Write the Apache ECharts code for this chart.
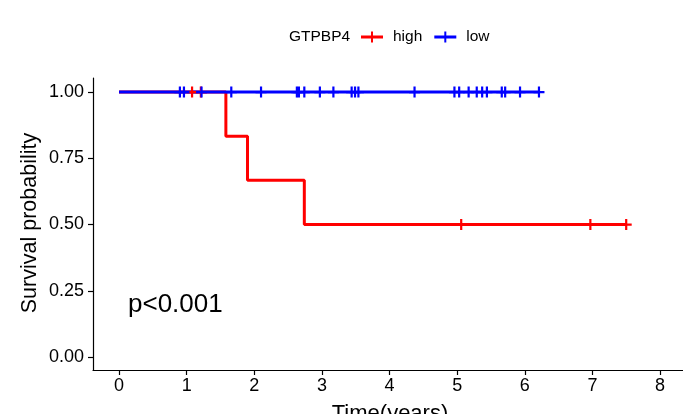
<!DOCTYPE html>
<html>
<head>
<meta charset="utf-8">
<script src="https://cdn.jsdelivr.net/npm/echarts@6/dist/echarts.min.js"></script>
<style>
html,body{margin:0;padding:0;background:#fff;}
#chart{width:683px;height:414px;}
</style>
</head>
<body>
<div id="chart"></div>
<script>
// Kaplan-Meier data
const groups = ["high", "low"];
const highTimes = [0, 1.58, 1.90, 2.74, 7.50];
const highSurv = [1, 0.833, 0.667, 0.5, 0.5];
const highCensor = [1.08, 1.21, 5.06, 6.97, 7.50];
const lowTimes = [0, 6.21];
const lowSurv = [1, 1];
const lowCensor = [0.90, 0.96, 1.22, 1.66, 2.10, 2.63, 2.66, 2.74, 2.97, 3.17, 3.44, 3.49, 3.54, 4.37, 4.96, 5.03, 5.17, 5.29, 5.37, 5.44, 5.66, 5.71, 5.93, 6.21];
const xTicks = [0, 1, 2, 3, 4, 5, 6, 7, 8];
const yTicks = [0, 0.25, 0.5, 0.75, 1];
const pText = "p<0.001";
const legendTitle = "GTPBP4";

function survAt(times, surv, t) {
  let s = surv[0];
  for (let i = 0; i < times.length; i++) { if (times[i] <= t) s = surv[i]; }
  return s;
}
const zip = (a, b) => a.map((v, i) => [v, b[i]]);

const RED = '#FF0000', BLUE = '#0000FF';
const FONT = 'Liberation Sans, Arial, sans-serif';
const cross = 'path://M0,4L10,4L10,6L0,6Z M4,0L6,0L6,10L4,10Z';
const legIcon = 'path://M0,4L22,4L22,7L0,7Z M10,0L12,0L12,11L10,11Z';

const chart = echarts.init(document.getElementById('chart'), null, {renderer: 'canvas'});
chart.setOption({
  animation: false,
  backgroundColor: '#fff',
  grid: {left: 93, right: 0, top: 78, bottom: 44, containLabel: false},
  xAxis: {
    type: 'value', min: -0.385, max: 8.34,
    axisLine: {show: true, onZero: false, lineStyle: {color: '#000', width: 1.2}},
    axisTick: {show: true, length: 5, customValues: xTicks, lineStyle: {color: '#000', width: 1.2}},
    axisLabel: {customValues: xTicks, color: '#000', fontSize: 18, fontFamily: FONT, margin: 7},
    splitLine: {show: false}
  },
  yAxis: {
    type: 'value', min: -0.049, max: 1.053,
    axisLine: {show: true, onZero: false, lineStyle: {color: '#000', width: 1.2}},
    axisTick: {show: true, length: 5, customValues: yTicks, lineStyle: {color: '#000', width: 1.2}},
    axisLabel: {customValues: yTicks, color: '#000', fontSize: 18, fontFamily: FONT, margin: 9,
      formatter: v => v.toFixed(2)},
    splitLine: {show: false}
  },
  legend: {
    left: 361, top: 29, padding: 0, itemWidth: 22, itemHeight: 11, itemGap: 12,
    textStyle: {fontSize: 15.5, fontFamily: FONT, color: '#000', padding: [0, 0, 0, 5]},
    data: [
      {name: groups[0], icon: legIcon, itemStyle: {color: RED}},
      {name: groups[1], icon: legIcon, itemStyle: {color: BLUE}}
    ]
  },
  graphic: [
    {type: 'text', x: 289, y: 37, style: {text: legendTitle, fontSize: 15.5, fontFamily: FONT, fill: '#000', align: 'left', verticalAlign: 'middle'}},
    {type: 'text', x: 30, y: 223, rotation: Math.PI / 2,
      style: {text: 'Survival probability', fontSize: 21.5, fontFamily: FONT, fill: '#000', align: 'center', verticalAlign: 'middle'}},
    {type: 'text', x: 390, y: 414,
      style: {text: 'Time(years)', fontSize: 22, fontFamily: FONT, fill: '#000', align: 'center', verticalAlign: 'middle'}},
    {type: 'text', x: 128, y: 305,
      style: {text: pText, fontSize: 26, fontFamily: FONT, fill: '#000', align: 'left', verticalAlign: 'middle'}}
  ],
  series: [
    {name: groups[0], type: 'line', step: 'end', data: zip(highTimes, highSurv), symbol: 'none',
      lineStyle: {color: RED, width: 3}, itemStyle: {color: RED}, z: 2},
    {name: groups[1], type: 'line', step: 'end', data: zip(lowTimes, lowSurv), symbol: 'none',
      lineStyle: {color: BLUE, width: 3}, itemStyle: {color: BLUE}, z: 2},
    {name: groups[0], type: 'scatter', symbol: cross, symbolSize: [11, 11],
      data: highCensor.map(t => [t, survAt(highTimes, highSurv, t)]), itemStyle: {color: RED, opacity: 1}, z: 3},
    {name: groups[1], type: 'scatter', symbol: cross, symbolSize: [11, 11],
      data: lowCensor.map(t => [t, survAt(lowTimes, lowSurv, t)]), itemStyle: {color: BLUE, opacity: 1}, z: 3}
  ]
});
</script>
</body>
</html>
